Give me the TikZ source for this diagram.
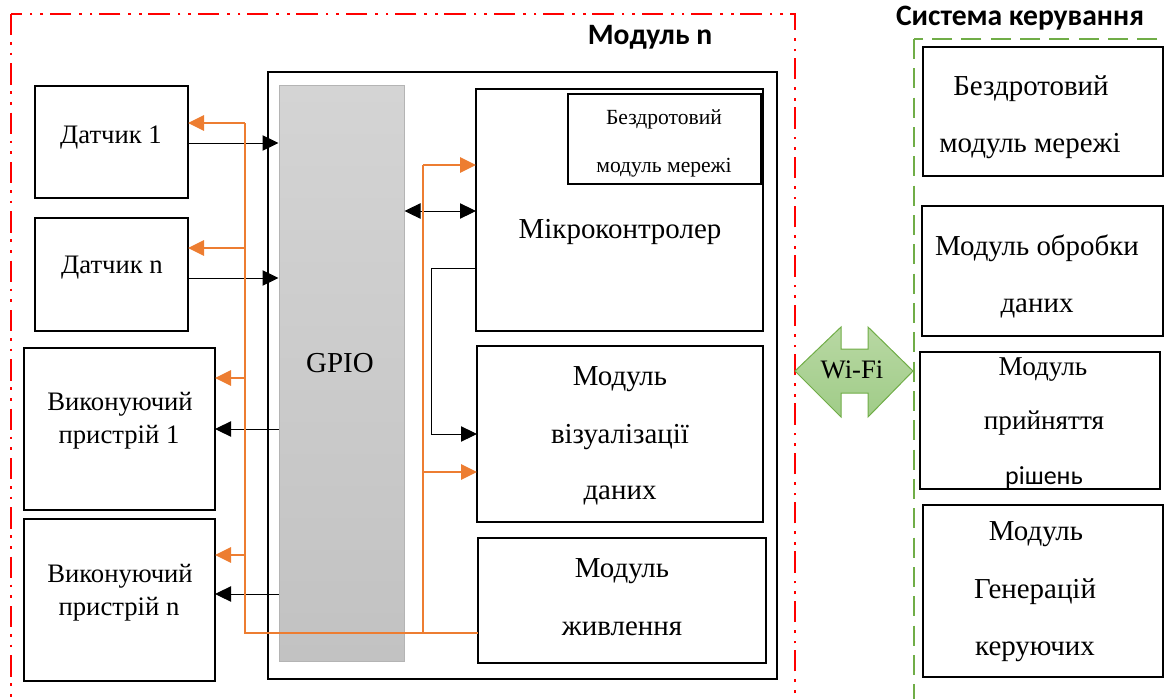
\documentclass[tikz,border=0pt]{standalone}
\usepackage{fontspec}
\setmainfont{Liberation Serif}
\newfontfamily\calfont{Carlito}
\usetikzlibrary{arrows.meta}
\definecolor{ora}{HTML}{ED7D31}
\definecolor{grn}{HTML}{70AD47}
\newcommand\mybox[6][]{\node[box,#1,minimum width={(#4-#2)*0.75pt},minimum height={(#5-#3)*0.75pt}] (#6) at ({(#2+#4)/2},{(#3+#5)/2}) {};}
\newcommand\fs[1]{\fontsize{#1}{#1}\selectfont}
\begin{document}
\begin{tikzpicture}[x=0.75pt,y=-0.75pt,
  box/.style={draw=black,line width=1.5pt,inner sep=0pt,outer sep=0pt,fill=white},
  txt/.style={anchor=base,inner sep=0pt,font=\fs{20}},
  mtxt/.style={anchor=base,inner sep=0pt,font=\fs{21.7}},
  stxt/.style={anchor=base,inner sep=0pt,font=\fs{16.2}},
  ttl/.style={anchor=base,inner sep=0pt,font=\calfont\bfseries\fs{22.2}},
  oline/.style={draw=ora,line width=1.5pt},
  oarr/.style={oline,-{Triangle[length=12pt,width=11.5pt]}},
  bline/.style={draw=black,line width=0.75pt},
  barr/.style={bline,-{Triangle[length=12pt,width=11.5pt]}},
  ]
\useasboundingbox (0,0) rectangle (1167,699);
\clip (0,0) rectangle (1167,699);
% frames
\draw[red,line width=2.2pt,dash pattern=on 16pt off 5pt on 2pt off 6pt on 2pt off 6pt] (11,14) rectangle (795,740);
\draw[grn,line width=1.8pt,dash pattern=on 15pt off 7pt] (914,39) rectangle (1200,740);
\node[ttl] (tmod) at (650,45) {Модуль n};
\node[ttl] (tsys) at (1020,26) {Система керування};
% module
\mybox{268}{72}{777}{679}{module}
\node[draw={rgb,255:red,180;green,180;blue,180},line width=0.75pt,top color={rgb,255:red,212;green,212;blue,212},bottom color={rgb,255:red,194;green,194;blue,194},inner sep=0pt,minimum width={125*0.75pt},minimum height={575*0.75pt}] (gpio) at (341.5,373.5) {};
\node[mtxt] (tgpio) at (340,372) {GPIO};
\mybox{476}{89}{763}{331}{micro}
\mybox{568}{94}{761}{184}{wm}
\mybox{477}{346}{763}{522}{viz}
\mybox{478}{538}{766}{663}{pw}
\node[mtxt] (tmicro) at (620,238) {Мікроконтролер};
\node[stxt] (twm1) at (664,124) {Бездротовий};
\node[stxt] (twm2) at (664,172) {модуль мережі};
\node[mtxt] (tviz1) at (620,385) {Модуль};
\node[mtxt] (tviz2) at (620,443) {візуалізації};
\node[mtxt] (tviz3) at (620,499) {даних};
\node[mtxt] (tpw1) at (622,577) {Модуль};
\node[mtxt] (tpw2) at (622,635) {живлення};
% left devices
\mybox{35}{86}{188}{198}{d1}
\mybox{35}{218}{188}{331}{dn}
\mybox{24}{348}{215}{510}{v1}
\mybox{24}{519}{215}{681}{vn}
\node[txt] (td1) at (111,143) {Датчик 1};
\node[txt] (tdn) at (112,273) {Датчик n};
\node[txt] (tv11) at (120,410) {Виконуючий};
\node[txt] (tv12) at (119,443) {пристрій 1};
\node[txt] (tvn1) at (120,582) {Виконуючий};
\node[txt] (tvn2) at (119,615) {пристрій n};
% right side
\mybox{923}{47}{1163}{176}{r1}
\mybox{922}{206}{1163}{336}{r2}
\mybox{920}{352}{1160}{489}{r3}
\mybox{923}{505}{1163}{677}{r4}
\node[mtxt] (tr11) at (1031,95) {Бездротовий};
\node[mtxt] (tr12) at (1030,152) {модуль мережі};
\node[mtxt] (tr21) at (1037,255) {Модуль обробки};
\node[mtxt] (tr22) at (1037,312) {даних};
\node[anchor=base,inner sep=0pt,font=\fs{20.4}] (tr31) at (1043,375) {Модуль};
\node[anchor=base,inner sep=0pt,font=\fs{20.4}] (tr32) at (1044,429) {прийняття};
\node[anchor=base,inner sep=0pt,font=\calfont\fs{19.5}] (tr33) at (1044,484) {рішень};
\node[mtxt] (tr41) at (1036,540) {Модуль};
\node[mtxt] (tr42) at (1035,598) {Генерацій};
\node[mtxt] (tr43) at (1035,655) {керуючих};
% Wi-Fi arrow
\draw[draw=grn,line width=0.75pt,top color={rgb,255:red,184;green,216;blue,163},bottom color={rgb,255:red,160;green,204;blue,136}]
  (795,371) -- (841,327) -- (841,349) -- (868,349) -- (868,327) -- (913,371) -- (868,417) -- (868,393) -- (841,393) -- (841,417) -- cycle;
\node[anchor=base,inner sep=0pt,font=\fs{20}] (wifi) at (852,378) {Wi-Fi};
% junction coordinates
\coordinate (oa) at (245,633);
\coordinate (ob) at (423,633);
\coordinate (o1) at (245,123);
\coordinate (o2) at (245,248);
\coordinate (o3) at (245,378);
\coordinate (o4) at (245,555);
\coordinate (o5) at (423,165);
\coordinate (o6) at (423,472);
\coordinate (b1) at (0,143);
\coordinate (b2) at (0,278);
\coordinate (b3) at (0,429);
\coordinate (b4) at (0,594);
\coordinate (b5) at (0,211);
\coordinate (k1) at (431,268);
\coordinate (k2) at (431,434);
% black connectors
\draw[barr] (d1.east |- b1) -- (gpio.west |- b1);
\draw[barr] (dn.east |- b2) -- (gpio.west |- b2);
\draw[barr] (gpio.west |- b3) -- (v1.east |- b3);
\draw[barr] (gpio.west |- b4) -- (vn.east |- b4);
\draw[bline,{Triangle[length=12pt,width=11.5pt]}-{Triangle[length=12pt,width=11.5pt]}] (gpio.east |- b5) -- (micro.west |- b5);
\draw[barr] (micro.west |- k1) -- (k1) -- (k2) -- (viz.west |- k2);
% orange connectors
\draw[oline] (pw.west |- oa) -- (oa) -- (o1);
\draw[oarr] (o1) -- (d1.east |- o1);
\draw[oarr] (o2) -- (dn.east |- o2);
\draw[oarr] (o3) -- (v1.east |- o3);
\draw[oarr] (o4) -- (vn.east |- o4);
\draw[oline] (ob) -- (o5);
\draw[oarr] (o5) -- (micro.west |- o5);
\draw[oarr] (o6) -- (viz.west |- o6);
\end{tikzpicture}
\end{document}
